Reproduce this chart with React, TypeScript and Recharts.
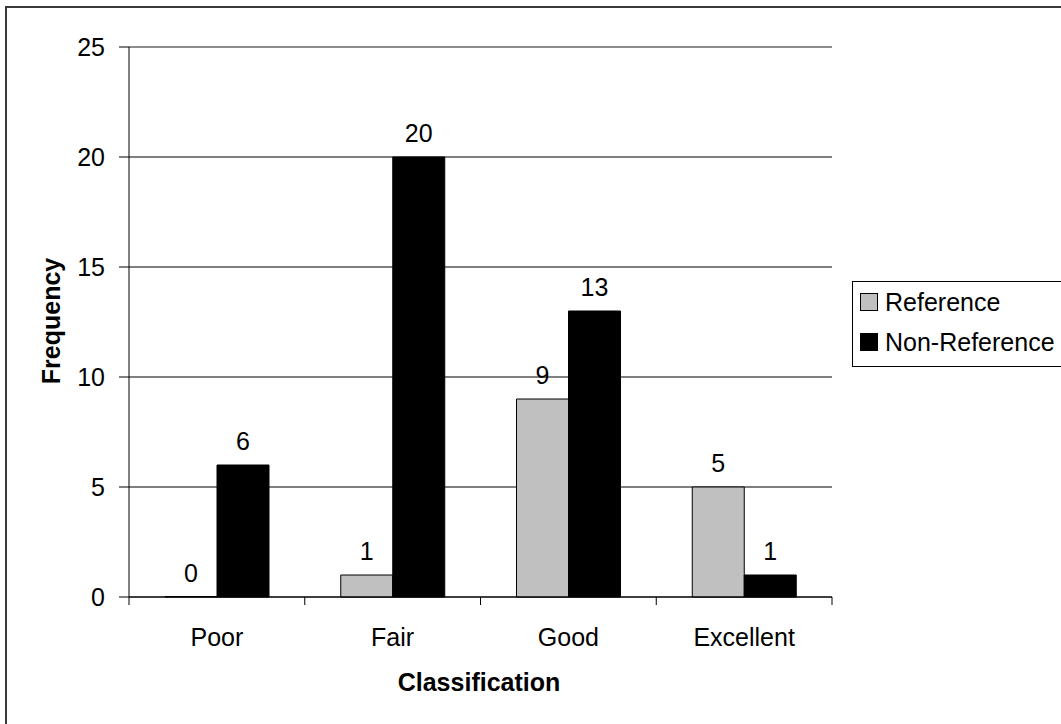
import { Bar, BarChart, CartesianGrid, LabelList, Legend, ReferenceLine, XAxis, YAxis } from "recharts"

const categories = ["Poor", "Fair", "Good", "Excellent"]
const referenceValues = [0, 1, 9, 5]
const nonReferenceValues = [6, 20, 13, 1]
const yTicks = [0, 5, 10, 15, 20, 25]
const seriesNames = ["Reference", "Non-Reference"]
const seriesColors = ["#c0c0c0", "#000000"]

const data = categories.map((category, i) => ({
  category,
  reference: referenceValues[i],
  nonReference: nonReferenceValues[i],
}))

const font = "'Liberation Sans', Arial, sans-serif"
const textSize = 25

function CategoryTick(props: any) {
  const { x, y, payload, index, width } = props
  const half = payload?.offset ?? width / categories.length / 2
  return (
    <g>
      <line x1={x - half} x2={x - half} y1={y} y2={y + 8} stroke="#000" />
      {index === categories.length - 1 && (
        <line x1={x + half} x2={x + half} y1={y} y2={y + 8} stroke="#000" />
      )}
      <text x={x} y={y + 49} textAnchor="middle" fill="#000" fontSize={textSize} fontFamily={font}>
        {payload.value}
      </text>
    </g>
  )
}

function LegendBox(props: any) {
  // keep the series order of the original, not alphabetical
  const items = [...(props.payload ?? [])].sort(
    (a: any, b: any) => seriesNames.indexOf(a.value) - seriesNames.indexOf(b.value),
  )
  return (
    <div
      style={{
        border: "1px solid #000",
        background: "#fff",
        padding: "0 0 4px 7px",
        width: 230,
        fontFamily: font,
        fontSize: textSize,
        lineHeight: "40px",
      }}
    >
      {items.map((item: any) => (
        <div key={item.value} style={{ display: "flex", alignItems: "center" }}>
          <span
            style={{
              display: "inline-block",
              width: 16,
              height: 16,
              background: item.color,
              border: "1px solid #000",
              marginRight: 7,
            }}
          />
          <span>{item.value}</span>
        </div>
      ))}
    </div>
  )
}

export default function App() {
  return (
    <div style={{ position: "absolute", left: 0, top: 0, width: 1061, height: 724, overflow: "hidden", background: "#fff" }}>
      <div
        style={{
          position: "absolute",
          left: 5,
          top: 6,
          width: 1100,
          height: 800,
          border: "2px solid #3a3a3a",
          boxSizing: "border-box",
        }}
      />
      <div style={{ position: "absolute", left: 0, top: 0 }}>
        <BarChart
          width={1061}
          height={724}
          data={data}
          margin={{ top: 47, right: 229, bottom: 67, left: 59 }}
          barCategoryGap={36}
          barGap={0}
        >
          <CartesianGrid horizontal vertical={false} stroke="#000" />
          <ReferenceLine y={25} stroke="#999" />
          <XAxis
            dataKey="category"
            height={60}
            axisLine={{ stroke: "#000" }}
            tickLine={false}
            tickSize={0}
            tickMargin={0}
            interval={0}
            tick={<CategoryTick />}
          />
          <YAxis
            width={70}
            domain={[0, 25]}
            ticks={yTicks}
            interval={0}
            axisLine={{ stroke: "#000" }}
            tickLine={{ stroke: "#000" }}
            tickSize={10}
            tickMargin={14}
            tick={{ fill: "#000", fontSize: textSize, fontFamily: font }}
          />
          <YAxis
            yAxisId="frame"
            orientation="right"
            width={0}
            tick={false}
            tickLine={false}
            axisLine={{ stroke: "#999" }}
          />
          <Legend
            layout="vertical"
            align="center"
            verticalAlign="middle"
            content={<LegendBox />}
            wrapperStyle={{ left: 852, top: 281, right: "auto", bottom: "auto", width: 232 }}
          />
          <Bar
            dataKey="reference"
            name={seriesNames[0]}
            fill={seriesColors[0]}
            stroke="#000"
            strokeWidth={1}
            minPointSize={0.5}
            isAnimationActive={false}
          >
            <LabelList
              dataKey="reference"
              position="top"
              offset={15}
              fill="#000"
              fontSize={textSize}
              fontFamily={font}
            />
          </Bar>
          <Bar
            dataKey="nonReference"
            name={seriesNames[1]}
            fill={seriesColors[1]}
            stroke="#000"
            strokeWidth={1}
            isAnimationActive={false}
          >
            <LabelList
              dataKey="nonReference"
              position="top"
              offset={15}
              fill="#000"
              fontSize={textSize}
              fontFamily={font}
            />
          </Bar>
        </BarChart>
      </div>
      <div
        style={{
          position: "absolute",
          left: 51,
          top: 321,
          transform: "translate(-50%, -50%) rotate(-90deg)",
          fontFamily: font,
          fontWeight: "bold",
          fontSize: 25,
          whiteSpace: "nowrap",
        }}
      >
        Frequency
      </div>
      <div
        style={{
          position: "absolute",
          left: 479,
          top: 682,
          transform: "translate(-50%, -50%)",
          fontFamily: font,
          fontWeight: "bold",
          fontSize: 25,
          whiteSpace: "nowrap",
        }}
      >
        Classification
      </div>
    </div>
  )
}
